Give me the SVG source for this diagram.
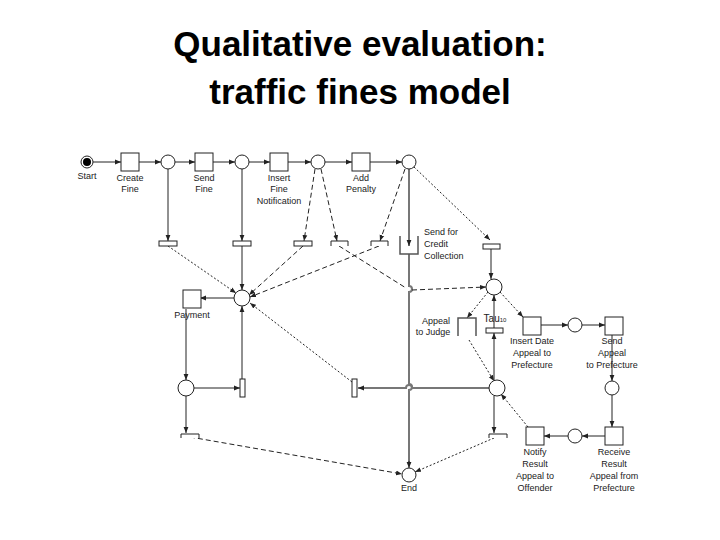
<svg xmlns="http://www.w3.org/2000/svg" width="720" height="540" viewBox="0 0 720 540">
<style>
.t{font-family:"Liberation Sans",Arial,sans-serif;font-size:9px;fill:#222;text-anchor:middle}
.h{font-family:"Liberation Sans",Arial,sans-serif;font-size:35px;font-weight:bold;fill:#000;text-anchor:middle}
.n{fill:#fff;stroke:#222;stroke-width:1}
.e{fill:none;stroke:#222;stroke-width:1;marker-end:url(#a)}
.d{stroke-dasharray:5,3}
.o{stroke-dasharray:2,2}
.g{stroke:#777;stroke-width:2;marker-end:url(#b)}
</style>
<defs><marker id="a" viewBox="0 0 10 10" refX="10" refY="5" markerWidth="6" markerHeight="6" orient="auto"><path d="M0,1L10,5L0,9z" fill="#222"/></marker>
<marker id="b" viewBox="0 0 10 10" refX="10" refY="5" markerWidth="6" markerHeight="6" markerUnits="userSpaceOnUse" orient="auto"><path d="M0,1L10,5L0,9z" fill="#222"/></marker></defs>
<rect width="720" height="540" fill="#fff"/>
<text class="h" x="360" y="56">Qualitative evaluation:</text>
<text class="h" x="360" y="104">traffic fines model</text>
<g id="edges">
<path class="e" d="M93,162H121"/><path class="e" d="M139,162H161"/><path class="e" d="M175,162H195"/><path class="e" d="M213,162H235"/><path class="e" d="M249,162H270"/><path class="e" d="M288,162H311"/><path class="e" d="M325,162H352"/><path class="e" d="M370,162H402"/>
<path class="e" d="M168,169V241"/><path class="e" d="M242,169V241"/>
<path class="e d" d="M315,169L304,241"/><path class="e d" d="M321,169L337,241"/><path class="e d" d="M405,169L380,241"/>
<path class="e g" d="M409,169V246"/>
<path stroke="#777" stroke-width="2" fill="none" d="M409,254V286a3,3 0 0 1 0,6V384a3,3 0 0 1 0,6V462"/>
<path class="e" d="M409,461V468"/>
<path class="e o" d="M414,167L490,240"/>
<path class="e o" d="M168,246L236,293"/><path class="e" d="M242,246V290"/><path class="e d" d="M303,246L249,295"/><path class="e d" d="M379,246L250,297"/>
<path class="e d" d="M339,246L406,288M412,290L486,287"/>
<path class="e" d="M491,249V279"/>
<path class="e" d="M234,298H200"/>
<path class="e" d="M186,309V380"/><path class="e" d="M194,388H240"/><path class="e" d="M242,379V306"/>
<path class="e" d="M186,396V433"/><path class="e d" d="M190,437L402,474"/>
<path class="e o" d="M488,292L467,318"/><path class="e o" d="M500,292L523,317"/>
<path class="e" d="M494,380V333"/><path class="e" d="M494,328V295"/>
<path class="e o" d="M469,340L494,381"/>
<path class="g" fill="none" d="M489,388H412a3,3 0 0 0 -6,0H358"/>
<path class="e o" d="M352,382L250,303"/>
<path class="e" d="M494,396V433"/><path class="e o" d="M494,438L415,472"/>
<path class="e" d="M541,325H568"/><path class="e" d="M582,325H605"/>
<path class="e" d="M612,335V381"/><path class="e" d="M612,395V427"/>
<path class="e" d="M605,436H582"/><path class="e" d="M568,436H544"/>
<path class="e o" d="M528,427L501,394"/>
</g>
<g id="start"><circle class="n" cx="87" cy="162" r="6"/><circle cx="87" cy="162" r="4" fill="#000"/><text class="t" x="87" y="179">Start</text></g>
<g id="createFine"><rect class="n" x="121" y="153" width="18" height="18"/><text class="t" x="130" y="181">Create</text><text class="t" x="130" y="192">Fine</text></g>
<g id="p1"><circle class="n" cx="168" cy="162" r="7"/></g>
<g id="sendFine"><rect class="n" x="195" y="153" width="18" height="18"/><text class="t" x="204" y="181">Send</text><text class="t" x="204" y="192">Fine</text></g>
<g id="p2"><circle class="n" cx="242" cy="162" r="7"/></g>
<g id="insertFine"><rect class="n" x="270" y="153" width="18" height="18"/><text class="t" x="279" y="181">Insert</text><text class="t" x="279" y="192">Fine</text><text class="t" x="279" y="204">Notification</text></g>
<g id="p3"><circle class="n" cx="318" cy="162" r="7"/></g>
<g id="addPenalty"><rect class="n" x="352" y="153" width="18" height="18"/><text class="t" x="361" y="181">Add</text><text class="t" x="361" y="192">Penalty</text></g>
<g id="p4"><circle class="n" cx="409" cy="162" r="7"/></g>
<g id="b1"><rect class="n" x="159" y="241" width="18" height="5"/></g>
<g id="b2"><rect class="n" x="233" y="241" width="18" height="5"/></g>
<g id="b3"><rect class="n" x="294" y="241" width="18" height="5"/></g>
<g id="s1"><path class="n" fill="none" d="M331,246V241H348V246"/></g>
<g id="s2"><path class="n" fill="none" d="M371,246V241H388V246"/></g>
<g id="credit"><path fill="none" stroke="#555" stroke-width="1.5" d="M400,236V254H418V236"/><text class="t" x="424" y="235" style="text-anchor:start">Send for</text><text class="t" x="424" y="247" style="text-anchor:start">Credit</text><text class="t" x="424" y="259" style="text-anchor:start">Collection</text></g>
<g id="b4"><rect class="n" x="483" y="244" width="17" height="5"/></g>
<g id="pc"><circle class="n" cx="242" cy="298" r="8"/></g>
<g id="payment"><rect class="n" x="183" y="290" width="18" height="18"/><text class="t" x="192" y="318">Payment</text></g>
<g id="pr"><circle class="n" cx="494" cy="287" r="8"/></g>
<g id="judge"><path fill="none" stroke="#555" stroke-width="1.5" d="M458,336V318H476V336"/><text class="t" x="436" y="324">Appeal</text><text class="t" x="433" y="335">to Judge</text></g>
<g id="tau"><rect class="n" x="486" y="328" width="17" height="5"/><text class="t" x="495" y="322" style="font-size:10px">Tau<tspan style="font-size:6px">10</tspan></text></g>
<g id="insertDate"><rect class="n" x="523" y="317" width="18" height="18"/><text class="t" x="532" y="344">Insert Date</text><text class="t" x="532" y="356">Appeal to</text><text class="t" x="532" y="368">Prefecture</text></g>
<g id="p5"><circle class="n" cx="575" cy="325" r="7"/></g>
<g id="sendAppeal"><rect class="n" x="605" y="317" width="18" height="18"/><text class="t" x="612" y="344">Send</text><text class="t" x="612" y="356">Appeal</text><text class="t" x="612" y="368">to Prefecture</text></g>
<g id="pl"><circle class="n" cx="186" cy="388" r="8"/></g>
<g id="v1"><rect class="n" x="240" y="379" width="5" height="18"/></g>
<g id="v2"><rect class="n" x="352" y="379" width="5" height="18"/></g>
<g id="pm"><circle class="n" cx="497" cy="388" r="8"/></g>
<g id="p6"><circle class="n" cx="612" cy="388" r="7"/></g>
<g id="bl"><path class="n" fill="none" d="M181,438V434H199V438"/></g>
<g id="br"><path class="n" fill="none" d="M489,438V434H507V438"/></g>
<g id="notify"><rect class="n" x="526" y="427" width="18" height="18"/><text class="t" x="535" y="455">Notify</text><text class="t" x="535" y="467">Result</text><text class="t" x="535" y="479">Appeal to</text><text class="t" x="535" y="491">Offender</text></g>
<g id="p7"><circle class="n" cx="575" cy="436" r="7"/></g>
<g id="receive"><rect class="n" x="605" y="427" width="18" height="18"/><text class="t" x="614" y="455">Receive</text><text class="t" x="614" y="467">Result</text><text class="t" x="614" y="479">Appeal from</text><text class="t" x="614" y="491">Prefecture</text></g>
<g id="end"><circle class="n" cx="409" cy="475" r="7"/><text class="t" x="409" y="491">End</text></g>
</svg>
